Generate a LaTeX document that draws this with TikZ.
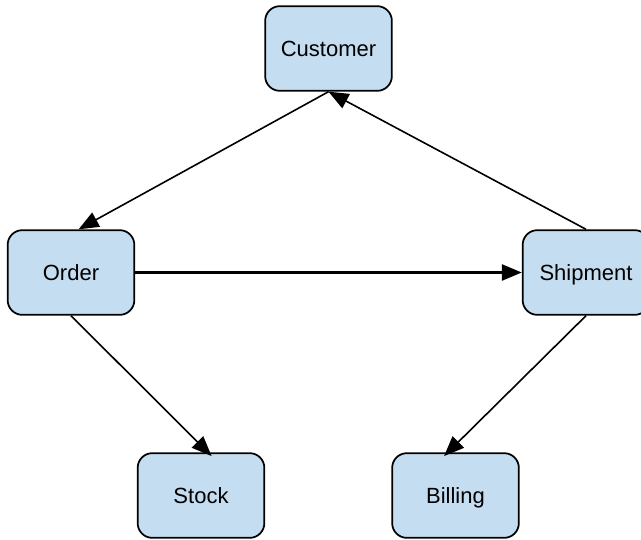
\documentclass[tikz,border=0pt]{standalone}
\usepackage{fontspec}
\setmainfont{Liberation Sans}
\usepackage{tikz}
\usetikzlibrary{arrows.meta,positioning,calc}
\definecolor{boxblue}{RGB}{197,221,240}

\begin{document}
\begin{tikzpicture}[x=0.75pt,y=-0.75pt, box/.style={draw=black,fill=boxblue,line width=1.3pt,rounded corners=11pt,minimum width=95pt,minimum height=63.5pt,text height=11.8pt,text depth=0pt,font=\fontsize{16.5}{20}\selectfont},link/.style={-{Triangle[length=15pt,width=12pt]},line width=1.2pt}]
            \useasboundingbox (0,0) rectangle (641,539);
            \node[box] (cust) at (328.5,48.5) {Customer};
            \node[box] (ord) at (71,272.5) {Order};
            \node[box] (ship) at (586,272.5) {Shipment};
            \node[box] (stk) at (201,495.5) {Stock};
            \node[box] (bill) at (455.5,495.5) {Billing};

            \draw[link] (cust.south) -- (ord.80);
            \draw[link] (ship.north) -- (cust.south);
            \draw[link,line width=2pt] (ord.east) -- (ship.west);
            \draw[link,shorten >=-4pt] (ord.south) -- (stk.81);
            \draw[link,shorten >=-4pt] (ship.south) -- (bill.100);
          \end{tikzpicture}
\end{document}
